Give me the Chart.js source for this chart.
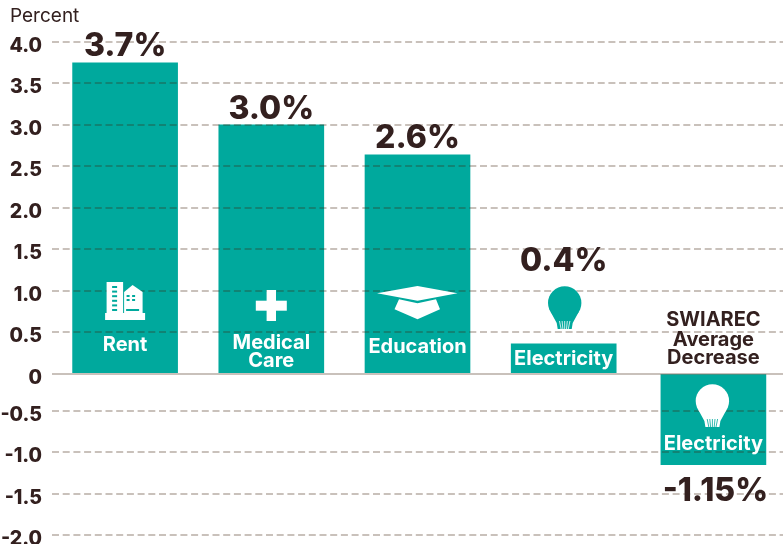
<!DOCTYPE html>
<html>
<head>
<meta charset="utf-8">
<title>Percent change by category</title>
<style>
  html, body { margin: 0; padding: 0; background: #fff; overflow: hidden; }
  canvas { display: block; }
</style>
</head>
<body>
<canvas id="grafico" width="783" height="544"></canvas>
<script src="https://cdn.jsdelivr.net/npm/chart.js@4"></script>
<script>
const categorias = ['Rent', 'Medical Care', 'Education', 'Electricity', 'SWIAREC Electricity'];
const valores = [3.75, 3.0, 2.64, 0.36, -1.15];
const rotulosValor = ['3.7%', '3.0%', '2.6%', '0.4%', '-1.15%'];
const rotulosEixo = ['-2.0', '-1.5', '-1.0', '-0.5', '0', '0.5', '1.0', '1.5', '2.0', '2.5', '3.0', '3.5', '4.0'];

const FONTE = 'Inter, "Liberation Sans", sans-serif';
const ESCURO = '#33201f';
const VERDE = '#00a99d';

// the original artwork sits the negative half a little closer to the zero line
class EixoQuebrado extends Chart.LinearScale {
    getPixelForValue(value) {
        const px = super.getPixelForValue(value);
        return value < 0 ? px - 4.3 : px;
    }
}
EixoQuebrado.id = 'eixoQuebrado';
EixoQuebrado.defaults = Chart.LinearScale.defaults;

// last bar stands slightly apart from the others
class CategoriaDeslocada extends Chart.CategoryScale {
    getPixelForValue(value) {
        const px = super.getPixelForValue(value);
        return value === 4 ? px + 3.5 : px;
    }
}
CategoriaDeslocada.id = 'categoriaDeslocada';
CategoriaDeslocada.defaults = Chart.CategoryScale.defaults;

Chart.register(EixoQuebrado, CategoriaDeslocada);

function texto(ctx, t, x, y, peso, tam, cor, align) {
    ctx.font = peso + ' ' + tam + 'px ' + FONTE;
    ctx.fillStyle = cor;
    ctx.textAlign = align || 'center';
    ctx.textBaseline = 'middle';
    ctx.fillText(t, x, y);
}

function poligono(ctx, pts) {
    ctx.beginPath();
    pts.forEach((p, i) => i ? ctx.lineTo(p[0], p[1]) : ctx.moveTo(p[0], p[1]));
    ctx.closePath();
    ctx.fill();
}

function predio(ctx, cx) {
    ctx.fillStyle = '#fff';
    ctx.fillRect(cx - 18.5, 282, 16.5, 31);
    poligono(ctx, [[cx - 1, 292], [cx + 7.5, 285], [cx + 17.5, 292], [cx + 17.5, 313], [cx - 1, 313]]);
    ctx.fillRect(cx - 20, 313, 40, 7);
    ctx.fillStyle = VERDE;
    for (let i = 0; i < 6; i++) ctx.fillRect(cx - 13, 286 + i * 4.6, 5, 2);
    for (let i = 0; i < 2; i++) {
        ctx.fillRect(cx + 1.5, 295 + i * 4, 3, 2);
        ctx.fillRect(cx + 7, 295 + i * 4, 3, 2);
    }
    ctx.fillRect(cx + 1, 309, 13, 2);
}

function cruz(ctx, cx) {
    ctx.fillStyle = '#fff';
    ctx.fillRect(cx - 4.7, 290, 9.4, 31);
    ctx.fillRect(cx - 15.5, 300.7, 31, 10);
}

function capelo(ctx, cx) {
    ctx.fillStyle = '#fff';
    poligono(ctx, [[cx - 40.5, 293.3], [cx, 286], [cx + 40, 293.3], [cx, 300.7]]);
    poligono(ctx, [[cx - 18.5, 299.3], [cx, 303.3], [cx + 18.5, 299.3], [cx + 22.5, 309.3], [cx, 319.3], [cx - 23, 309.3]]);
}

function lampada(ctx, cx, cy, cor, corLinha) {
    ctx.fillStyle = cor;
    ctx.beginPath();
    ctx.arc(cx, cy, 16.7, 0, Math.PI * 2);
    ctx.fill();
    poligono(ctx, [[cx - 14, cy + 9], [cx + 14, cy + 9], [cx + 8, cy + 20], [cx + 7, cy + 26], [cx - 7, cy + 26], [cx - 8, cy + 20]]);
    ctx.strokeStyle = corLinha;
    ctx.lineWidth = 0.8;
    for (let i = -2; i <= 2; i++) {
        ctx.beginPath();
        ctx.moveTo(cx + i * 2.6, cy + 18);
        ctx.lineTo(cx + i * 1.8, cy + 26);
        ctx.stroke();
    }
}

const anotacoes = {
    id: 'anotacoes',
    afterDraw(chart) {
        const ctx = chart.ctx;
        const barras = chart.getDatasetMeta(0).data;
        ctx.save();
        texto(ctx, 'Percent', 10, 16.5, '400', 19, ESCURO, 'left');

        // value labels
        texto(ctx, rotulosValor[0], barras[0].x, barras[0].y - 16, '800', 32, ESCURO);
        texto(ctx, rotulosValor[1], barras[1].x, barras[1].y - 16, '800', 32, ESCURO);
        texto(ctx, rotulosValor[2], barras[2].x, barras[2].y - 16, '800', 32, ESCURO);
        texto(ctx, rotulosValor[3], barras[3].x, barras[3].y - 82, '800', 32, ESCURO);
        texto(ctx, rotulosValor[4], barras[4].x + 2, barras[4].y + 27, '800', 32, ESCURO);

        // names inside the bars
        texto(ctx, 'Rent', barras[0].x, 344.5, '700', 20, '#fff');
        texto(ctx, 'Medical', barras[1].x, 343, '700', 20, '#fff');
        texto(ctx, 'Care', barras[1].x, 361, '700', 20, '#fff');
        texto(ctx, 'Education', barras[2].x, 347, '700', 20, '#fff');
        texto(ctx, 'Electricity', barras[3].x, 359, '700', 20, '#fff');
        texto(ctx, 'Electricity', barras[4].x, 444, '700', 20, '#fff');

        texto(ctx, 'SWIAREC', barras[4].x, 320, '700', 20, ESCURO);
        texto(ctx, 'Average', barras[4].x, 339.5, '700', 20, ESCURO);
        texto(ctx, 'Decrease', barras[4].x, 358, '700', 20, ESCURO);

        predio(ctx, barras[0].x);
        cruz(ctx, barras[1].x);
        capelo(ctx, barras[2].x);
        lampada(ctx, barras[3].x + 1, 303, VERDE, '#fff');
        lampada(ctx, barras[4].x - 1, 401, '#fff', VERDE);
        ctx.restore();
    }
};

new Chart(document.getElementById('grafico'), {
    type: 'bar',
    data: {
        labels: categorias,
        datasets: [{
            data: valores,
            backgroundColor: VERDE,
            borderWidth: 0,
            barThickness: 105
        }]
    },
    options: {
        responsive: false,
        animation: false,
        layout: { padding: { top: 42, bottom: 4.5, left: 0, right: 0 } },
        plugins: {
            legend: { display: false },
            tooltip: { enabled: false },
            title: { display: false }
        },
        scales: {
            x: {
                type: 'categoriaDeslocada',
                display: false,
                grid: { display: false }
            },
            y: {
                type: 'eixoQuebrado',
                min: -2,
                max: 4,
                afterFit: scale => {
                    scale.width = 52;
                    // the -2.0 label runs off the bottom edge in the original
                    scale.paddingTop = 0;
                    scale.paddingBottom = 0;
                },
                ticks: {
                    stepSize: 0.5,
                    autoSkip: false,
                    padding: 10,
                    labelOffset: 4,
                    color: ESCURO,
                    font: { family: FONTE, size: 19.5, weight: '800' },
                    callback: (v, i) => rotulosEixo[i]
                },
                grid: {
                    z: 1,
                    drawTicks: false,
                    lineWidth: 2,
                    color: 'rgba(62,33,12,0.28)'
                },
                border: {
                    display: false,
                    dash: ctx => (ctx.tick && ctx.tick.value === 0 ? [] : [7, 3.7])
                }
            }
        }
    },
    plugins: [anotacoes]
});
</script>
</body>
</html>
